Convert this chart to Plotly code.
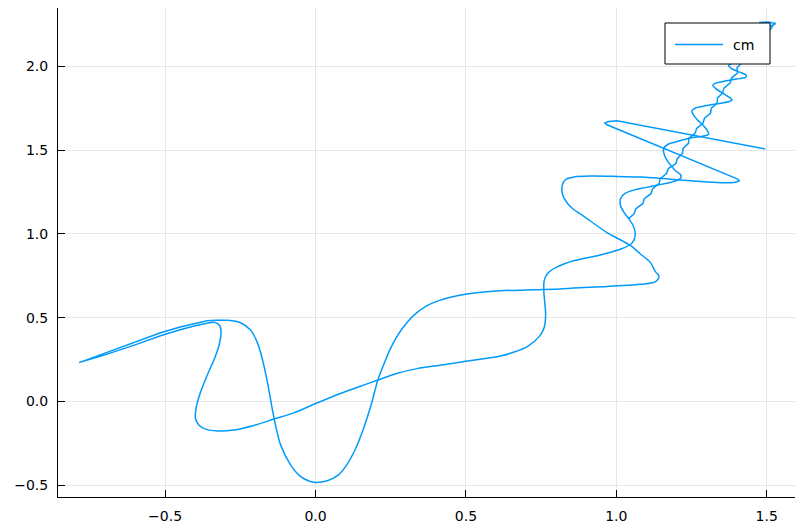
import plotly.graph_objects as go

# --- data (trajectory "cm") ---
# zig-zag strand climbing to the top
zig_x = [1.041, 1.059, 1.065, 1.088, 1.093, 1.115, 1.121, 1.142, 1.146, 1.167,
         1.173, 1.198, 1.203, 1.220, 1.222, 1.240, 1.241, 1.262, 1.267, 1.288,
         1.293, 1.313, 1.316, 1.335, 1.336, 1.353, 1.358, 1.378, 1.383, 1.403,
         1.401, 1.416, 1.420, 1.443, 1.448, 1.469, 1.474, 1.494, 1.500, 1.515,
         1.530, 1.505, 1.475, 1.495, 1.520, 1.510]
zig_y = [1.09, 1.12, 1.15, 1.18, 1.21, 1.24, 1.27, 1.30, 1.33, 1.36,
         1.39, 1.42, 1.45, 1.48, 1.51, 1.54, 1.57, 1.60, 1.63, 1.66,
         1.69, 1.72, 1.75, 1.78, 1.81, 1.84, 1.87, 1.90, 1.93, 1.96,
         1.99, 2.02, 2.05, 2.08, 2.11, 2.14, 2.17, 2.20, 2.23, 2.245,
         2.255, 2.265, 2.262, 2.250, 2.240, 2.215]

# wavy strand coming back down, then the long sweep to the left
wave_x = [1.510, 1.480, 1.445, 1.430, 1.440, 1.470, 1.482, 1.465, 1.420, 1.385,
          1.373, 1.382, 1.410, 1.432, 1.430, 1.400, 1.355, 1.328, 1.321, 1.330,
          1.355, 1.378, 1.385, 1.372, 1.346, 1.290, 1.262, 1.251, 1.256, 1.270,
          1.290, 1.304, 1.307, 1.290, 1.246, 1.205, 1.172, 1.157, 1.160, 1.174,
          1.196, 1.214, 1.214, 1.190, 1.134, 1.068, 1.030, 1.014, 1.014, 1.025,
          1.041, 1.056, 1.063, 1.052, 1.020, 0.947, 0.858, 0.800, 0.772, 0.760,
          0.759, 0.762, 0.765, 0.760, 0.745, 0.703, 0.660, 0.615, 0.504, 0.420,
          0.338, 0.270, 0.207, 0.145, 0.083, 0.001, -0.072, -0.138, -0.205, -0.271,
          -0.327, -0.365, -0.388, -0.399, -0.397, -0.385, -0.360, -0.335, -0.320, -0.314,
          -0.318, -0.335, -0.360]
wave_y = [2.215, 2.185, 2.160, 2.140, 2.115, 2.095, 2.075, 2.055, 2.035, 2.018,
          2.005, 1.988, 1.965, 1.947, 1.935, 1.924, 1.910, 1.898, 1.886, 1.868,
          1.838, 1.812, 1.798, 1.789, 1.779, 1.762, 1.750, 1.733, 1.712, 1.680,
          1.645, 1.612, 1.594, 1.584, 1.572, 1.553, 1.535, 1.508, 1.470, 1.425,
          1.378, 1.352, 1.332, 1.312, 1.290, 1.266, 1.243, 1.210, 1.168, 1.130,
          1.092, 1.050, 0.995, 0.945, 0.913, 0.874, 0.840, 0.800, 0.765, 0.720,
          0.660, 0.592, 0.520, 0.440, 0.390, 0.326, 0.295, 0.272, 0.241, 0.218,
          0.196, 0.167, 0.128, 0.088, 0.048, -0.012, -0.068, -0.105, -0.143, -0.170,
          -0.176, -0.165, -0.140, -0.100, -0.040, 0.040, 0.156, 0.260, 0.340, 0.414,
          0.452, 0.472, 0.467]

# narrow spike out to the far left and back
spike_x = [-0.360, -0.400, -0.450, -0.515, -0.600, -0.700, -0.786,
           -0.700, -0.600, -0.515, -0.450, -0.400, -0.360, -0.330, -0.293]
spike_y = [0.467, 0.452, 0.428, 0.392, 0.338, 0.278, 0.232,
           0.290, 0.356, 0.410, 0.445, 0.468, 0.482, 0.485, 0.484]

# dip through the minimum, the loops on the right, up to the sharp right tip
tail_x = [-0.293, -0.249, -0.216, -0.194, -0.177, -0.160, -0.144, -0.133, -0.116, -0.083,
          -0.050, -0.020, 0.001, 0.039, 0.075, 0.105, 0.135, 0.160, 0.185, 0.207,
          0.228, 0.249, 0.275, 0.305, 0.335, 0.371, 0.410, 0.449, 0.504, 0.560,
          0.615, 0.725, 0.814, 0.858, 0.969, 1.080, 1.120, 1.135, 1.142, 1.130,
          1.113, 1.080, 1.047, 0.969, 0.891, 0.855, 0.836, 0.822, 0.819, 0.823,
          0.835, 0.860, 0.914, 1.000, 1.080, 1.213, 1.300, 1.357, 1.395, 1.410]
tail_y = [0.484, 0.470, 0.426, 0.354, 0.255, 0.117, -0.042, -0.141, -0.259, -0.378,
          -0.447, -0.476, -0.483, -0.473, -0.440, -0.375, -0.275, -0.160, -0.020, 0.127,
          0.225, 0.315, 0.400, 0.473, 0.527, 0.572, 0.602, 0.622, 0.641, 0.653,
          0.661, 0.667, 0.671, 0.677, 0.686, 0.699, 0.708, 0.722, 0.748, 0.775,
          0.830, 0.880, 0.931, 1.008, 1.106, 1.150, 1.186, 1.230, 1.270, 1.305,
          1.328, 1.340, 1.345, 1.343, 1.339, 1.322, 1.310, 1.305, 1.308, 1.318]

# final straight strokes: back up-left to a tip, then out to the end point
end_x = [1.410, 1.400, 0.969, 0.962, 0.975, 1.002, 1.495]
end_y = [1.318, 1.330, 1.651, 1.662, 1.671, 1.675, 1.507]

x_ticks = [-0.5, 0.0, 0.5, 1.0, 1.5]
x_labels = ["\u22120.5", "0.0", "0.5", "1.0", "1.5"]
y_ticks = [-0.5, 0.0, 0.5, 1.0, 1.5, 2.0]
y_labels = ["\u22120.5", "0.0", "0.5", "1.0", "1.5", "2.0"]
series_name = "cm"

LINE_COLOR = "#009AFA"
FONT = "DejaVu Sans"
LW = 1.5

fig = go.Figure()
pieces = [(zig_x, zig_y, "linear"), (wave_x, wave_y, "spline"),
          (spike_x, spike_y, "linear"), (tail_x, tail_y, "spline"),
          (end_x, end_y, "linear")]
for i, (xs, ys, shape) in enumerate(pieces):
    line = dict(color=LINE_COLOR, width=LW, shape=shape)
    if shape == "spline":
        line["smoothing"] = 0.8
    fig.add_trace(go.Scatter(x=xs, y=ys, mode="lines", name=series_name,
                             legendgroup=series_name, line=line,
                             showlegend=False, hoverinfo="skip"))

axis_common = dict(showgrid=True, gridcolor="#e6e6e6", gridwidth=1,
                   zeroline=False, showline=True, linecolor="black", linewidth=1,
                   ticks="inside", ticklen=7, tickcolor="black", tickwidth=1,
                   tickfont=dict(family=FONT, size=14, color="black"),
                   mirror=False)

fig.update_xaxes(range=[-0.856, 1.594], tickvals=x_ticks, ticktext=x_labels,
                 ticklabelstandoff=6, **axis_common)
fig.update_yaxes(range=[-0.570, 2.348], tickvals=y_ticks, ticktext=y_labels,
                 ticklabelstandoff=6, **axis_common)

# legend box drawn as in the reference
L, R, T, B = 58, 795, 8, 497
def px(xp):
    return (xp - L) / (R - L)
def py(yp):
    return (B - yp) / (B - T)

fig.add_shape(type="rect", xref="paper", yref="paper",
              x0=px(665), x1=px(770), y0=py(64), y1=py(23),
              fillcolor="white", line=dict(color="black", width=1), layer="above")
fig.add_shape(type="line", xref="paper", yref="paper",
              x0=px(675), x1=px(723), y0=py(44.5), y1=py(44.5),
              line=dict(color=LINE_COLOR, width=LW), layer="above")
fig.add_annotation(xref="paper", yref="paper", x=px(731), y=py(44.5),
                   text=series_name, showarrow=False, xanchor="left", yanchor="middle",
                   font=dict(family=FONT, size=14, color="black"))

fig.update_layout(width=795, height=523,
                  margin=dict(l=L, r=795 - R, t=T, b=523 - B),
                  paper_bgcolor="white", plot_bgcolor="white",
                  showlegend=False)

fig.write_html("out.html", config={"displayModeBar": False},
               post_script="document.body.style.margin='0';document.body.style.padding='0';")
